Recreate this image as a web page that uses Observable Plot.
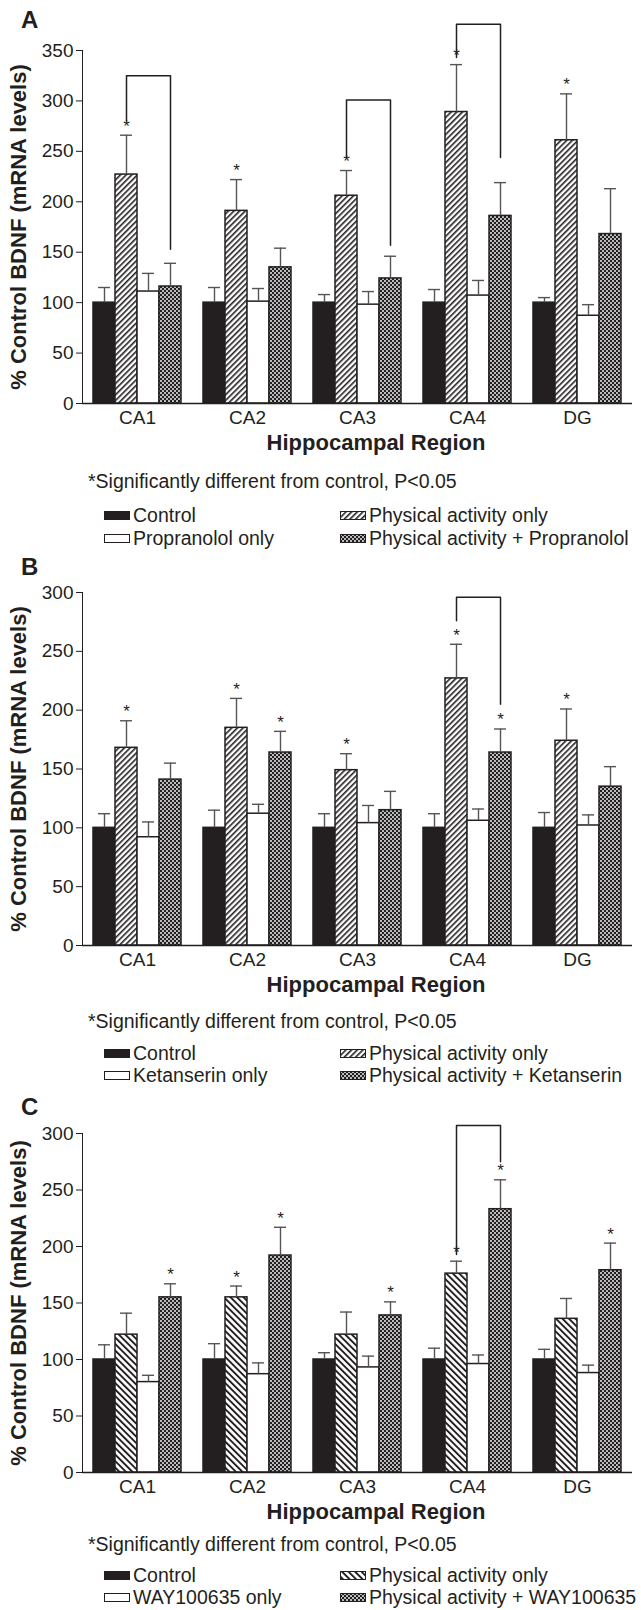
<!DOCTYPE html>
<html>
<head>
<meta charset="utf-8">
<script src="https://cdn.jsdelivr.net/npm/d3@7"></script>
<script src="https://cdn.jsdelivr.net/npm/@observablehq/plot@0.6"></script>
<style>
  body { margin: 0; background: #fff; }
  #fig { position: relative; width: 641px; height: 1610px; font-family: "Liberation Sans", Arial, Helvetica, sans-serif; color: #231f20; overflow: hidden; }
  .abs { position: absolute; white-space: nowrap; line-height: 22px; }
  .plabel { font-weight: bold; font-size: 24px; line-height: 24px; }
  .xtitle { font-weight: bold; font-size: 22px; transform: translateX(-50%); }
  .note { font-size: 19.5px; }
  .leg { font-size: 19.5px; line-height: 17px; height: 17px; display: flex; align-items: center; }
  .leg svg { margin-right: 3px; }
  .panel { position: absolute; left: 0; }
  .panel svg { overflow: visible; }
  [aria-label="fx-axis tick label"] { font-size: 19px; }
  [aria-label="y-axis tick label"] { font-size: 19px; }
  [aria-label="y-axis label"] { font-size: 22px; font-weight: bold; }
  [aria-label="y-axis tick"] { stroke: #666; }
</style>
</head>
<body>
<svg width="0" height="0" style="position:absolute">
  <defs>
    <pattern id="hatchF" patternUnits="userSpaceOnUse" width="4" height="4" patternTransform="rotate(45)">
      <rect width="4" height="4" fill="#fff"/>
      <rect width="1.6" height="4" fill="#231f20"/>
    </pattern>
    <pattern id="hatchB" patternUnits="userSpaceOnUse" width="4.6" height="4.6" patternTransform="rotate(-45)">
      <rect width="4.6" height="4.6" fill="#fff"/>
      <rect width="1.9" height="4.6" fill="#231f20"/>
    </pattern>
    <pattern id="dots" patternUnits="userSpaceOnUse" width="4" height="4">
      <rect width="4" height="4" fill="#231f20"/>
      <circle cx="1" cy="1" r="0.95" fill="#fff"/>
      <circle cx="3" cy="3" r="0.95" fill="#fff"/>
    </pattern>
  </defs>
</svg>
<div id="fig"></div>
<script>
// ---------- data ----------
const regions = ["CA1", "CA2", "CA3", "CA4", "DG"];
const yTicksA = [0, 50, 100, 150, 200, 250, 300, 350];
const yTicksBC = [0, 50, 100, 150, 200, 250, 300];

// Panel A (propranolol)
const seriesA = ["Control", "Physical activity only", "Propranolol only", "Physical activity + Propranolol"];
const controlA = [100, 100, 100, 100, 100];
const controlErrA = [15, 15, 8, 13, 5];
const activityA = [227, 191, 206, 289, 261];
const activityErrA = [39, 31, 25, 47, 46];
const drugA = [111, 101, 98, 107, 87];
const drugErrA = [18, 13, 13, 15, 11];
const comboA = [116, 135, 124, 186, 168];
const comboErrA = [23, 19, 22, 33, 45];
const starActivityA = [1, 1, 1, 1, 1];
const starComboA = [0, 0, 0, 0, 0];
const bracketRegionA = ["CA1", "CA3", "CA4"];
const bracketLeftA = [280, 244, 343];
const bracketTopA = [325, 301, 376];
const bracketRightA = [153, 157, 244];

// Panel B (ketanserin)
const seriesB = ["Control", "Physical activity only", "Ketanserin only", "Physical activity + Ketanserin"];
const controlB = [100, 100, 100, 100, 100];
const controlErrB = [12, 15, 12, 12, 13];
const activityB = [168, 185, 149, 227, 174];
const activityErrB = [23, 25, 14, 29, 27];
const drugB = [92, 112, 104, 106, 102];
const drugErrB = [13, 8, 15, 10, 9];
const comboB = [141, 164, 115, 164, 135];
const comboErrB = [14, 18, 16, 20, 17];
const starActivityB = [1, 1, 1, 1, 1];
const starComboB = [0, 1, 0, 1, 0];
const bracketRegionB = ["CA4"];
const bracketLeftB = [276];
const bracketTopB = [296];
const bracketRightB = [205];

// Panel C (WAY100635)
const seriesC = ["Control", "Physical activity only", "WAY100635 only", "Physical activity + WAY100635"];
const controlC = [100, 100, 100, 100, 100];
const controlErrC = [13, 14, 6, 10, 9];
const activityC = [122, 155, 122, 176, 136];
const activityErrC = [19, 10, 20, 11, 18];
const drugC = [80, 87, 93, 96, 88];
const drugErrC = [6, 10, 10, 8, 7];
const comboC = [155, 192, 139, 233, 179];
const comboErrC = [12, 25, 12, 26, 24];
const starActivityC = [0, 1, 0, 1, 0];
const starComboC = [1, 1, 1, 1, 1];
const bracketRegionC = ["CA4"];
const bracketLeftC = [193];
const bracketTopC = [307];
const bracketRightC = [275];

const noStars = [0, 0, 0, 0, 0];

// ---------- styles ----------
const INK = "#231f20";
const fillsAB = [INK, "url(#hatchF)", "#fff", "url(#dots)"];
const fillsC = [INK, "url(#hatchB)", "#fff", "url(#dots)"];
const FONT = '"Liberation Sans", Arial, Helvetica, sans-serif';

function buildRows(series, values, errors, stars) {
  const rows = [];
  regions.forEach((r, i) => {
    series.forEach((s, j) => {
      rows.push({region: r, series: s, value: values[j][i], top: values[j][i] + errors[j][i], star: !!stars[j][i]});
    });
  });
  return rows;
}

function buildBrackets(series, reg, left, top, right) {
  const pts = [];
  reg.forEach((r, k) => {
    pts.push({id: k, region: r, series: series[1], y: left[k]});
    pts.push({id: k, region: r, series: series[1], y: top[k]});
    pts.push({id: k, region: r, series: series[3], y: top[k]});
    pts.push({id: k, region: r, series: series[3], y: right[k]});
  });
  return pts;
}

function panel({series, rows, brackets, yTicks, fills, height, marginTop}) {
  return Plot.plot({
    width: 641,
    height,
    marginTop,
    marginBottom: 27,
    marginLeft: 82,
    marginRight: 9,
    style: {fontFamily: FONT, fontSize: "19px", color: INK, background: "transparent", overflow: "visible"},
    fx: {domain: regions, padding: 0, label: null, tickSize: 0, tickPadding: 7, axis: "bottom"},
    x: {domain: series, paddingInner: 0, paddingOuter: 0.5, axis: null},
    y: {domain: [yTicks[0], yTicks[yTicks.length - 1]], ticks: yTicks, nice: false, line: true,
        tickSize: 6, tickPadding: 3,
        label: "% Control BDNF (mRNA levels)", labelAnchor: "center", labelOffset: 72, labelArrow: "none"},
    color: {domain: series, range: fills},
    marks: [
      Plot.barY(rows, {fx: "region", x: "series", y: "value", fill: "series", stroke: INK, strokeWidth: 1.5}),
      Plot.ruleX(rows, {fx: "region", x: "series", y1: "value", y2: "top", stroke: "#555", strokeWidth: 1.4}),
      Plot.tickY(rows, {fx: "region", x: "series", y: "top", stroke: "#555", strokeWidth: 1.4, insetLeft: 5, insetRight: 5}),
      Plot.text(rows.filter(d => d.star), {fx: "region", x: "series", y: "top", text: () => "*", dy: -9, fontSize: 17, fill: INK}),
      Plot.line(brackets, {fx: "region", x: "series", y: "y", z: "id", stroke: INK, strokeWidth: 1.5}),
      Plot.ruleY([0], {stroke: INK, strokeWidth: 1.5})
    ]
  });
}

const fig = document.getElementById("fig");

function addText(txt, x, yc, cls) {
  const d = document.createElement("div");
  d.className = "abs " + cls;
  d.textContent = txt;
  d.style.left = x + "px";
  d.style.top = (yc - 11) + "px";
  fig.appendChild(d);
  return d;
}

function swatch(fill) {
  return `<svg width="26" height="9"><rect x="0.5" y="0.5" width="25" height="8" fill="${fill}" stroke="${INK}" stroke-width="1"/></svg>`;
}

function addLegend(series, fills, y1, y2) {
  const items = [[0, 104, y1], [2, 104, y2], [1, 340, y1], [3, 340, y2]];
  for (const [j, x, y] of items) {
    const d = document.createElement("div");
    d.className = "abs leg";
    d.style.left = x + "px";
    d.style.top = (y - 8.5) + "px";
    d.innerHTML = swatch(fills[j]) + `<span>${series[j]}</span>`;
    fig.appendChild(d);
  }
}

function addPanel(letter, letterY, top, cfg, axisY, legendSeries, fills, legOff) {
  const wrap = document.createElement("div");
  wrap.className = "panel";
  wrap.style.top = top + "px";
  wrap.appendChild(panel(cfg));
  fig.appendChild(wrap);
  addText(letter, 21, letterY, "plabel");
  addText("Hippocampal Region", 376, axisY + 40, "xtitle");
  addText("*Significantly different from control, P<0.05", 88, axisY + legOff[0], "note");
  addLegend(legendSeries, fills, axisY + legOff[1], axisY + legOff[2]);
}

// Panel A
addPanel("A", 19, 0, {
  series: seriesA,
  rows: buildRows(seriesA, [controlA, activityA, drugA, comboA], [controlErrA, activityErrA, drugErrA, comboErrA], [noStars, starActivityA, noStars, starComboA]),
  brackets: buildBrackets(seriesA, bracketRegionA, bracketLeftA, bracketTopA, bracketRightA),
  yTicks: yTicksA, fills: fillsAB, height: 430, marginTop: 50
}, 403, seriesA, fillsAB, [78, 112, 135]);

// Panel B
addPanel("B", 566, 560, {
  series: seriesB,
  rows: buildRows(seriesB, [controlB, activityB, drugB, comboB], [controlErrB, activityErrB, drugErrB, comboErrB], [noStars, starActivityB, noStars, starComboB]),
  brackets: buildBrackets(seriesB, bracketRegionB, bracketLeftB, bracketTopB, bracketRightB),
  yTicks: yTicksBC, fills: fillsAB, height: 412, marginTop: 32
}, 945, seriesB, fillsAB, [76, 108, 130.5]);

// Panel C
addPanel("C", 1106, 1100, {
  series: seriesC,
  rows: buildRows(seriesC, [controlC, activityC, drugC, comboC], [controlErrC, activityErrC, drugErrC, comboErrC], [noStars, starActivityC, noStars, starComboC]),
  brackets: buildBrackets(seriesC, bracketRegionC, bracketLeftC, bracketTopC, bracketRightC),
  yTicks: yTicksBC, fills: fillsC, height: 399, marginTop: 33
}, 1472, seriesC, fillsC, [72, 103, 125.5]);
</script>
</body>
</html>
